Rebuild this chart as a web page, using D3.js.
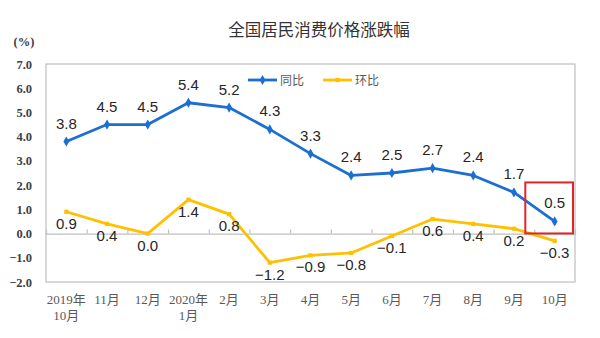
<!DOCTYPE html>
<html><head><meta charset="utf-8">
<script src="https://cdn.jsdelivr.net/npm/d3@7"></script>
<style>html,body{margin:0;padding:0;background:#fff;}svg{display:block;}</style>
</head><body>
<svg id="c" width="600" height="338"></svg>
<script>
const catLine1 = ["2019年","11月","12月","2020年","2月","3月","4月","5月","6月","7月","8月","9月","10月"];
const catLine2 = ["10月","","","1月","","","","","","","","",""];
const yoy = [3.8,4.5,4.5,5.4,5.2,4.3,3.3,2.4,2.5,2.7,2.4,1.7,0.5];
const mom = [0.9,0.4,0.0,1.4,0.8,-1.2,-0.9,-0.8,-0.1,0.6,0.4,0.2,-0.3];
const yTicks = [-2,-1,0,1,2,3,4,5,6,7];
const seriesNames = ["同比","环比"];
const title = "全国居民消费价格涨跌幅";

const svg = d3.select("#c");
const L=46, R=575, T=64, B=282;
const x = d3.scaleBand().domain(d3.range(catLine1.length)).range([L,R]);
const y = d3.scaleLinear().domain([-2,7]).range([B,T]);
const blue = "#1c6fd2", yellow = "#ffc000";
const cx = i => x(i) + x.bandwidth()/2;

svg.append("text").attr("x",319).attr("y",36).attr("text-anchor","middle")
  .attr("font-family","'Noto Sans CJK SC',sans-serif").attr("font-size",16.5).attr("fill","#333")
  .text(title);
svg.append("text").attr("x",24).attr("y",46).attr("text-anchor","middle")
  .attr("font-family","'Liberation Serif','Noto Sans CJK SC'").attr("font-weight","bold").attr("font-size",12.5).attr("fill","#404040")
  .text("(%)");

// frame
svg.append("rect").attr("x",L).attr("y",T).attr("width",R-L).attr("height",B-T)
  .attr("fill","none").attr("stroke","#bfbfbf").attr("stroke-width",1.2);

// y axis
const yAxis = d3.axisLeft(y).tickValues(yTicks).tickFormat(d3.format(".1f")).tickSize(0).tickPadding(14);
const ga = svg.append("g").attr("transform",`translate(${L},0)`).call(yAxis);
ga.select(".domain").remove();
ga.selectAll("text").attr("font-family","'Liberation Serif',serif").attr("font-weight","bold")
  .attr("font-size",12.5).attr("fill","#404040");

// zero line with category ticks
const gx = svg.append("g").attr("transform",`translate(0,${y(0)})`)
  .call(d3.axisTop(d3.scaleLinear().domain([0,catLine1.length]).range([L,R]))
    .tickValues(d3.range(1,catLine1.length)).tickSize(4).tickFormat(""));
gx.selectAll("path,line").attr("stroke","#bfbfbf").attr("stroke-width",1.2);

// x labels
const xl = svg.append("g").attr("font-family","'Liberation Serif','Noto Sans CJK SC',serif")
  .attr("font-size",13).attr("fill","#595959").attr("text-anchor","middle");
catLine1.forEach((t,i)=>{
  xl.append("text").attr("x",cx(i)).attr("y",304).text(t);
  if(catLine2[i]) xl.append("text").attr("x",cx(i)).attr("y",320).text(catLine2[i]);
});

const line = d3.line().x((d,i)=>cx(i)).y(d=>y(d));
svg.append("path").datum(mom).attr("d",line).attr("fill","none").attr("stroke",yellow).attr("stroke-width",2.8).attr("stroke-linejoin","round");
svg.append("path").datum(yoy).attr("d",line).attr("fill","none").attr("stroke",blue).attr("stroke-width",2.8).attr("stroke-linejoin","round");

const diamond = d3.symbol().type(d3.symbolDiamond).size(30);
const square = d3.symbol().type(d3.symbolSquare).size(18);
svg.append("g").selectAll("path").data(mom).join("path")
  .attr("d",square).attr("transform",(d,i)=>`translate(${cx(i)},${y(d)})`).attr("fill",yellow);
svg.append("g").selectAll("path").data(yoy).join("path")
  .attr("d",diamond).attr("transform",(d,i)=>`translate(${cx(i)},${y(d)})`).attr("fill",blue);

const lab = svg.append("g").attr("font-family","'Liberation Sans',Arial,sans-serif").attr("font-size",15)
  .attr("fill","#262626").attr("text-anchor","middle");
yoy.forEach((v,i)=>lab.append("text").attr("x",cx(i)).attr("y",y(v)-13).text(d3.format(".1f")(v)));
mom.forEach((v,i)=>lab.append("text").attr("x",cx(i)).attr("y",y(v)+17).text(d3.format(".1f")(v)));

// red highlight box
const last = catLine1.length-1;
svg.append("rect").attr("x",x(last)-9).attr("y",y(yoy[last])-39).attr("width",x.bandwidth()+7).attr("height",51)
  .attr("fill","none").attr("stroke","#e0242a").attr("stroke-width",2);

// legend
const lg = svg.append("g").attr("font-family","'Noto Sans CJK SC',sans-serif").attr("font-size",12).attr("fill","#595959");
[[blue,248,diamond],[yellow,323,square]].forEach(([c,lx,sym],k)=>{
  lg.append("line").attr("x1",lx).attr("x2",lx+29).attr("y1",80).attr("y2",80).attr("stroke",c).attr("stroke-width",2.8);
  lg.append("path").attr("d",sym).attr("transform",`translate(${lx+14.5},80)`).attr("fill",c);
  lg.append("text").attr("x",lx+32).attr("y",84.5).text(seriesNames[k]);
});
</script>
</body></html>
